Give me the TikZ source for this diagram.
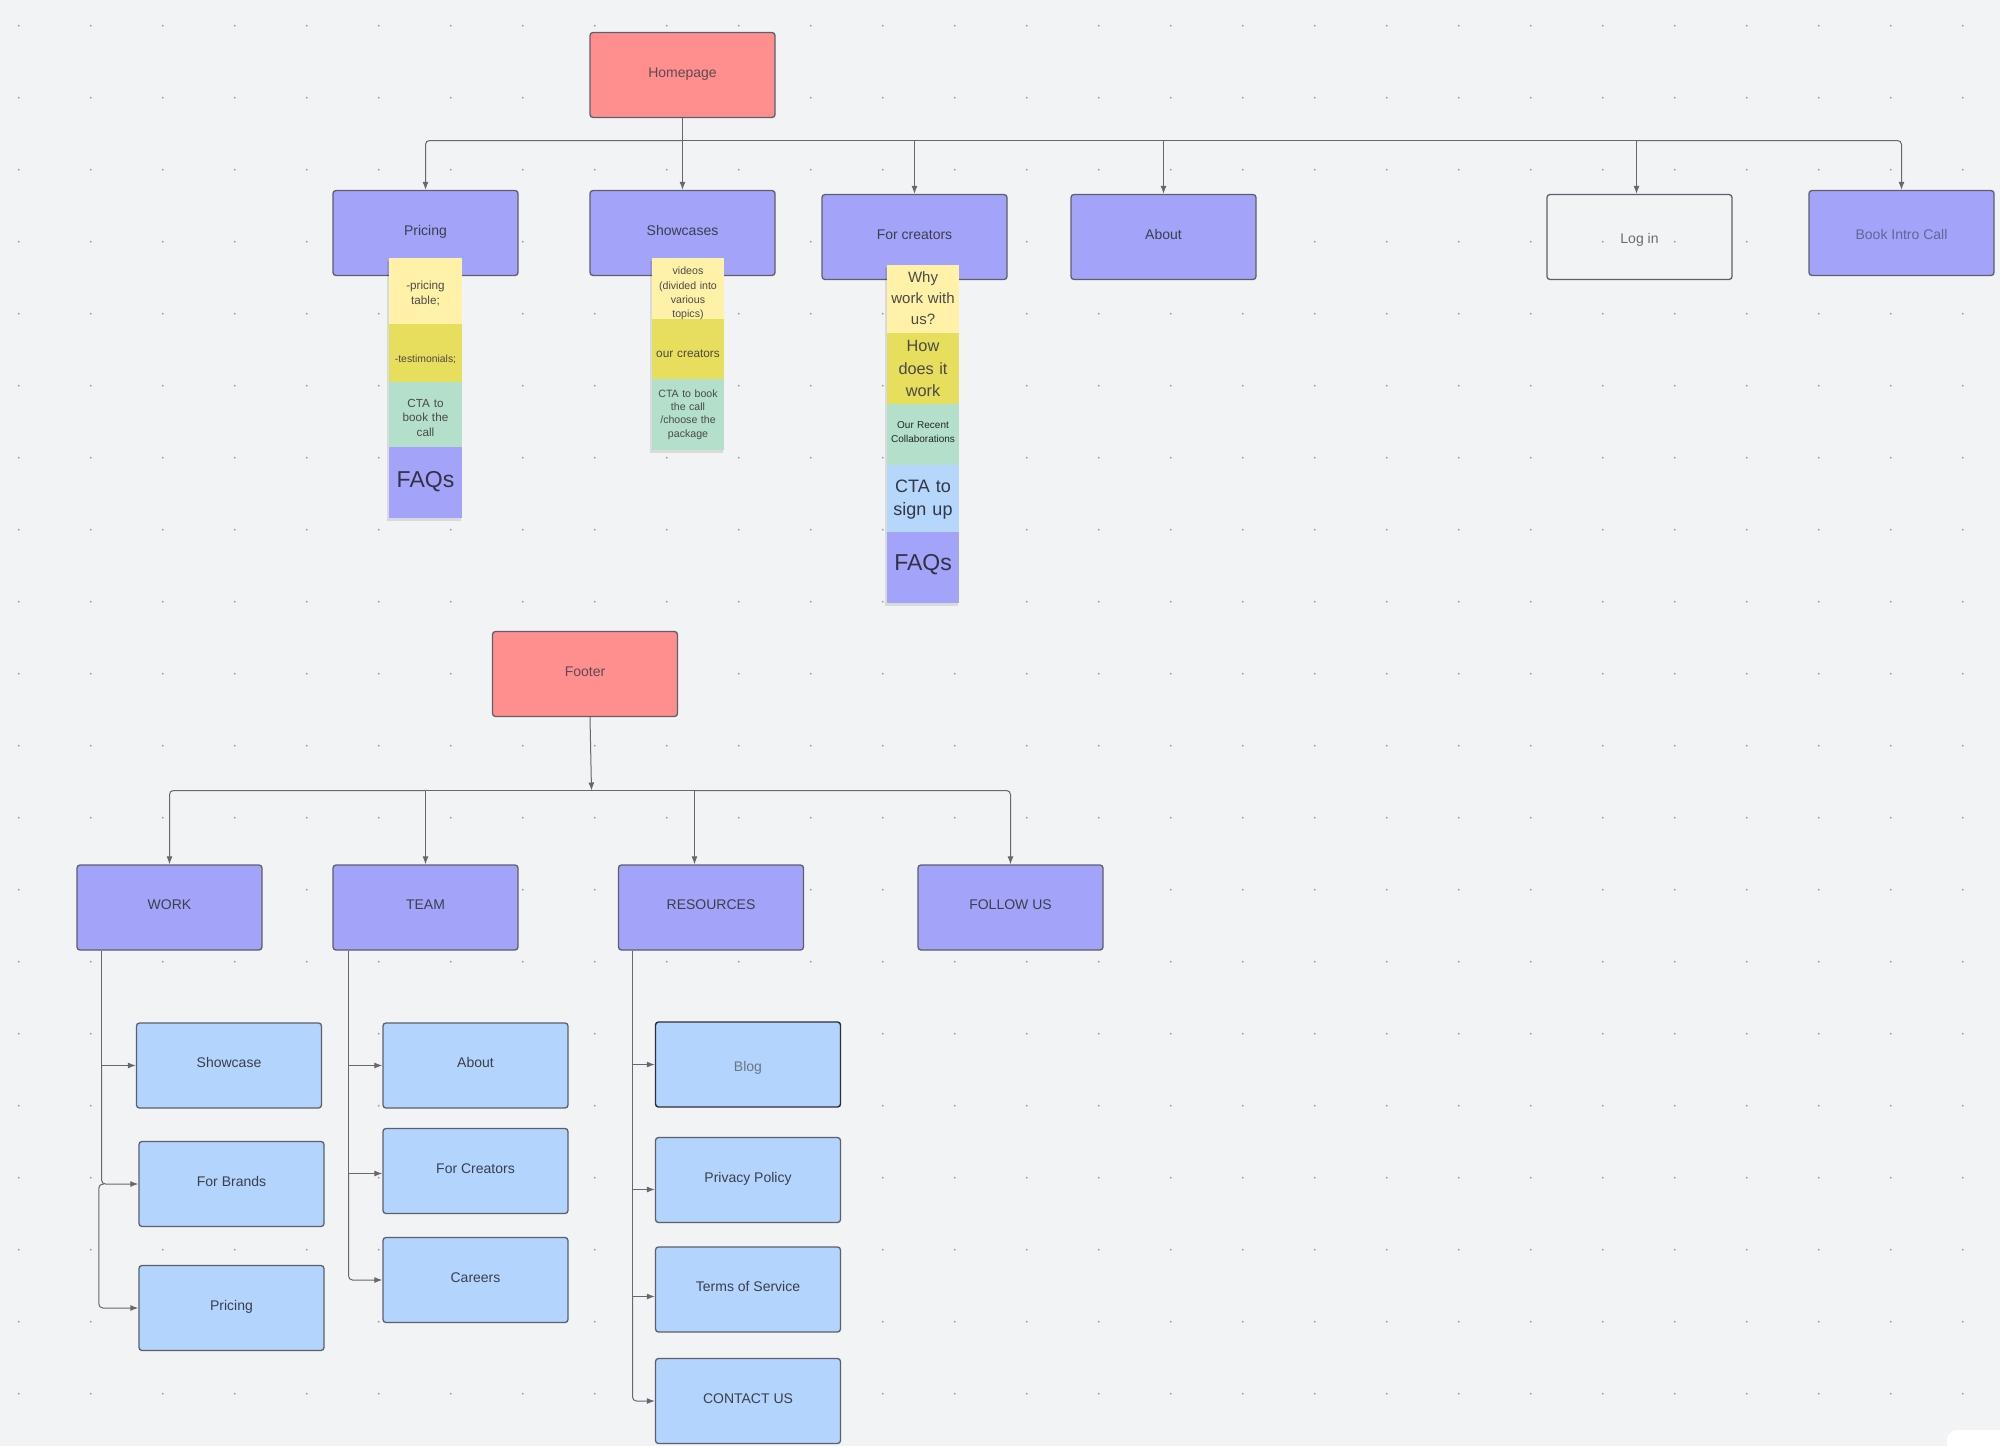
\documentclass[tikz,border=0pt]{standalone}
\usepackage{fontspec}
\setmainfont{Liberation Sans}
\usetikzlibrary{arrows.meta}
\definecolor{bg}{HTML}{F2F3F5}
\definecolor{dotc}{HTML}{A9ABB0}
\definecolor{purp}{HTML}{A3A3FA}
\definecolor{pinkc}{HTML}{FF8F8F}
\definecolor{lblue}{HTML}{B3D4FC}
\definecolor{edge}{HTML}{5E5F6B}
\definecolor{linec}{HTML}{68686C}
\definecolor{txt}{HTML}{3B3F4C}
\definecolor{redtxt}{HTML}{5E4A50}
\definecolor{sy1}{HTML}{FFF1A8}
\definecolor{sy2}{HTML}{E8DE5E}
\definecolor{sg}{HTML}{B3DFCB}
\definecolor{sb}{HTML}{B6D6FC}
\definecolor{sp}{HTML}{A3A3FA}
\definecolor{notetxt}{HTML}{4A4A48}
\newcommand\mysz[2]{\fontsize{#1}{#2}\selectfont}
\begin{document}
\begin{tikzpicture}[x=1pt,y=-1pt,
  box/.style={draw=edge,line width=1.3pt,rounded corners=3pt,minimum width=185pt,minimum height=85pt,inner sep=0pt,font=\mysz{14}{17},text=txt,text height=10pt,text depth=5.5pt},
  pbox/.style={box,fill=purp},
  rbox/.style={box,fill=pinkc,text=redtxt},
  bbox/.style={box,fill=lblue},
  conn/.style={draw=linec,line width=1pt,rounded corners=4pt},
  arr/.style={conn,-{Latex[length=8pt,width=6pt]}},
  note/.style={inner sep=0pt,text width=70pt,align=center,text=notetxt},
]
\useasboundingbox (0,0) rectangle (2000,1446);
\fill[bg] (0,0) rectangle (2000,1446);
\foreach \i in {0,...,27}{\foreach \j in {0,...,19}{\fill[dotc] ({18.7+72*\i},{25.7+72*\j}) circle (1.1);}}
\fill[white,rounded corners=10pt] (1947,1430) rectangle (2030,1480);

% top level
\node[rbox] (home) at (682.5,75) {Homepage};
\node[pbox] (pricing) at (425.5,233) {Pricing};
\node[pbox] (showcases) at (682.5,233) {Showcases};
\node[pbox] (creators) at (914.5,237) {For creators};
\node[pbox] (about) at (1163.5,237) {About};
\node[box,text=black!58,text height=12pt,text depth=0pt] (login) at (1639.5,237) {Log in};
\node[pbox,text={rgb,255:red,100;green,100;blue,150},text height=12.6pt,text depth=0pt] (book) at (1901.5,233) {Book Intro Call};

\coordinate (hj) at (682.5,140.5);
\coordinate (hj2) at (914.5,140.5);
\coordinate (hj3) at (1163.5,140.5);
\coordinate (hj4) at (1636.5,140.5);
\draw[arr] (home.south) -- (showcases.north);
\draw[arr] (hj) -| (pricing.north);
\draw[conn] (hj) -- (hj2);
\draw[arr] (hj2) -- (creators.north);
\draw[conn] (hj2) -- (hj3);
\draw[arr] (hj3) -- (about.north);
\draw[conn] (hj3) -- (hj4);
\draw[arr] (hj4) -- ([xshift=-3pt]login.north);
\draw[arr] (hj4) -| (book.north);

% sticky shadows
\fill[black,opacity=0.10] (387,261) rectangle (461,521);
\fill[black,opacity=0.10] (650,261) rectangle (723,453);
\fill[black,opacity=0.10] (885,268) rectangle (958,606);

% pricing stickies
\fill[sy1] (389,258) rectangle (462,324);
\fill[sy2] (389,324) rectangle (462,382);
\fill[sg] (389,382) rectangle (462,447);
\fill[sp] (389,447) rectangle (462,518);
\node[note,font=\mysz{11.7}{14.5}] (pn1) at (425.5,293.5) {-pricing\\table;};
\node[note,font=\mysz{10.4}{13}] (pn2) at (425.5,359.4) {-testimonials;};
\node[note,font=\mysz{11.7}{14.5}] (pn3) at (425.5,417.7) {CTA to\\book the\\call};
\node[note,font=\mysz{23}{26},text={rgb,255:red,50;green,50;blue,70}] (pn4) at (425.5,481.2) {FAQs};

% showcases stickies
\fill[sy1] (652,258) rectangle (724,319);
\fill[sy2] (652,319) rectangle (724,379);
\fill[sg] (652,379) rectangle (724,450);
\node[note,font=\mysz{10.6}{14.2}] (sn1) at (688,293.5) {videos\\(divided into\\various\\topics)};
\node[note,font=\mysz{11.8}{14}] (sn2) at (688,354) {our creators};
\node[note,font=\mysz{10.6}{13.2}] (sn3) at (688,414.5) {CTA to book\\the call\\/choose the\\package};

% for creators stickies
\fill[sy1] (887,265) rectangle (959,333);
\fill[sy2] (887,333) rectangle (959,404);
\fill[sg] (887,404) rectangle (959,465);
\fill[sb] (887,465) rectangle (959,532);
\fill[sp] (887,532) rectangle (959,603);
\node[note,font=\mysz{15}{20.7}] (cn1) at (923,298) {Why\\work with\\us?};
\node[note,font=\mysz{16.3}{22.5}] (cn2) at (923,368.5) {How\\does it\\work};
\node[note,font=\mysz{10}{13.7},text={rgb,255:red,35;green,40;blue,40}] (cn3) at (923,432) {Our Recent\\Collaborations};
\node[note,font=\mysz{18}{22.7},text={rgb,255:red,50;green,55;blue,70}] (cn4) at (923,499.8) {CTA to\\sign up};
\node[note,font=\mysz{23}{26},text={rgb,255:red,50;green,50;blue,70}] (cn5) at (923,565) {FAQs};

% footer
\node[rbox] (footer) at (585,674) {Footer};
\node[pbox] (work) at (169.5,907.5) {WORK};
\node[pbox] (team) at (425.5,907.5) {TEAM};
\node[pbox] (res) at (711,907.5) {RESOURCES};
\node[pbox] (follow) at (1010.5,907.5) {FOLLOW US};

\coordinate (fj) at (591.5,790.5);
\coordinate (fjt) at (425.5,790.5);
\coordinate (fjr) at (694.5,790.5);
\draw[arr] ([xshift=5pt]footer.south) -- (fj);
\draw[conn] (fj) -- (fjt);
\draw[arr] (fjt) -- (team.north);
\draw[arr] (fjt) -| (work.north);
\draw[conn] (fj) -- (fjr);
\draw[arr] (fjr) -- ([xshift=-16.5pt]res.north);
\draw[arr] (fjr) -| (follow.north);

\node[bbox] (showcase) at (229,1065.5) {Showcase};
\node[bbox] (brands) at (231.5,1184) {For Brands};
\node[bbox] (pricing2) at (231.5,1308) {Pricing};
\node[bbox] (about2) at (475.5,1065.5) {About};
\node[bbox] (fcreators) at (475.5,1171) {For Creators};
\node[bbox] (careers) at (475.5,1280) {Careers};
\node[bbox,draw={rgb,255:red,46;green,48;blue,56},line width=1.45pt,text={rgb,255:red,105;green,118;blue,135},text height=14.9pt,text depth=0pt] (blog) at (748,1064.5) {Blog};
\node[bbox] (privacy) at (748,1180) {Privacy Policy};
\node[bbox] (terms) at (748,1289.5) {Terms of Service};
\node[bbox] (contact) at (748,1401) {CONTACT US};

% WORK branch
\coordinate (wj1) at (101.5,1065.5);
\coordinate (wp) at (104,1184);
\draw[conn] ([xshift=-68pt]work.south) -- (wj1);
\draw[arr] (wj1) -- (showcase.west);
\draw[arr] (wj1) |- (brands.west);
\draw[arr] (wp) -| ([xshift=-39.5pt]pricing2.west) -- (pricing2.west);

% TEAM branch
\coordinate (tj1) at (348.5,1065.5);
\coordinate (tj2) at (348.5,1173.5);
\draw[conn] ([xshift=-77pt]team.south) -- (tj1);
\draw[arr] (tj1) -- (about2.west);
\draw[conn] (tj1) -- (tj2);
\draw[arr] (tj2) -- ([yshift=-2.5pt]fcreators.west);
\draw[arr] (tj2) |- (careers.west);

% RESOURCES branch
\coordinate (rj1) at (632.5,1064.5);
\coordinate (rj2) at (632.5,1189.5);
\coordinate (rj3) at (632.5,1296.5);
\draw[conn] ([xshift=-78.5pt]res.south) -- (rj1);
\draw[arr] (rj1) -- (blog.west);
\draw[conn] (rj1) -- (rj2);
\draw[arr] (rj2) -- ([yshift=-9.5pt]privacy.west);
\draw[conn] (rj2) -- (rj3);
\draw[arr] (rj3) -- ([yshift=-7pt]terms.west);
\draw[arr] (rj3) |- (contact.west);
\end{tikzpicture}
\end{document}
